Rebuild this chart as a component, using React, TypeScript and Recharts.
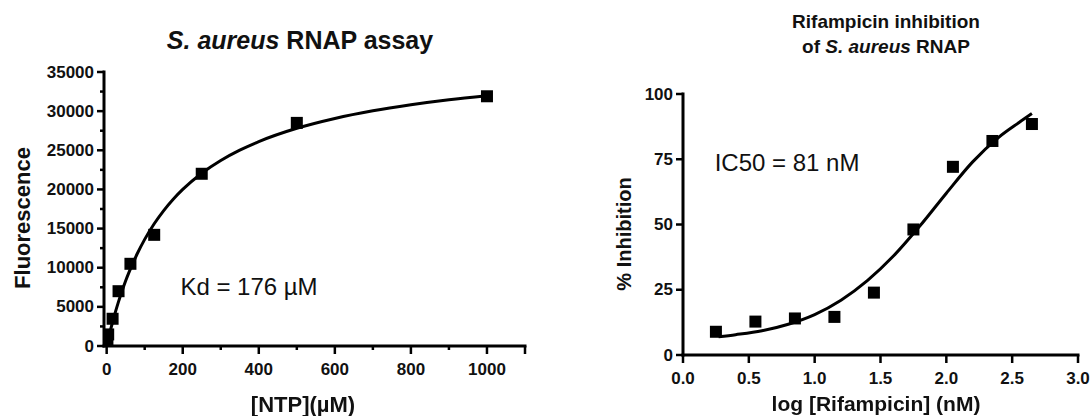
import React from "react";
import { ComposedChart, Line, Scatter, XAxis, YAxis } from "recharts";

// --- left panel: S. aureus RNAP assay (fluorescence vs [NTP]) ---
const ntpPoints = [
  { x: 0, y: 0 },
  { x: 2, y: 420 },
  { x: 4, y: 1480 },
  { x: 15.6, y: 3480 },
  { x: 31.25, y: 7000 },
  { x: 62.5, y: 10500 },
  { x: 125, y: 14200 },
  { x: 250, y: 22000 },
  { x: 500, y: 28500 },
  { x: 1000, y: 31900 },
];
const ntpFitX = [0, 5, 10, 20, 30, 40, 50, 60, 80, 100, 125, 150, 175, 200, 250, 300, 350, 400, 500, 600, 700, 800, 900, 1000];
const ntpFitY = [0, 1040, 2020, 3830, 5470, 6960, 8330, 9560, 11750, 13620, 15610, 17300, 18750, 20000, 22070, 23700, 25020, 26110, 27810, 29070, 30050, 30820, 31460, 31970];
const ntpFit = ntpFitX.map((x, i) => ({ x, y: ntpFitY[i] }));
const ntpXTicks = [0, 100, 200, 300, 400, 500, 600, 700, 800, 900, 1000, 1100];
const ntpXLabels = [0, 200, 400, 600, 800, 1000];
const fluorTicks = [0, 2500, 5000, 7500, 10000, 12500, 15000, 17500, 20000, 22500, 25000, 27500, 30000, 32500, 35000];
const fluorLabels = [0, 5000, 10000, 15000, 20000, 25000, 30000, 35000];

// --- right panel: rifampicin inhibition ---
const rifX = [0.25, 0.55, 0.85, 1.15, 1.45, 1.75, 2.05, 2.35, 2.65];
const rifY = [8.9, 12.8, 14.0, 14.6, 23.9, 48.1, 72.1, 82.0, 88.5];
const rifPoints = rifX.map((x, i) => ({ x, y: rifY[i] }));
const rifFitX = [0.27, 0.4, 0.6, 0.8, 1.0, 1.2, 1.4, 1.6, 1.8, 2.0, 2.2, 2.4, 2.55, 2.65];
const rifFitY = [7.0, 7.8, 9.3, 11.8, 15.5, 21, 28.5, 38, 49.5, 62, 74, 83.5, 89, 92.5];
const rifFit = rifFitX.map((x, i) => ({ x, y: rifFitY[i] }));
const logTicks = [0, 0.5, 1, 1.5, 2, 2.5, 3];
const inhibTicks = [0, 25, 50, 75, 100];

const FONT = "'Liberation Sans', Arial, sans-serif";
const AXIS = { stroke: "#000", strokeWidth: 3, strokeLinecap: "square" as const };

const Square = (props: any) => {
  const { cx, cy } = props;
  if (cx == null || cy == null) return null;
  return <rect x={cx - 6} y={cy - 6} width={12} height={12} fill="#000" />;
};

const makeYTick = (labels: number[] | null, fmt: (v: number) => string, size: number) => (props: any) => {
  const { x, y, payload } = props;
  const major = labels ? labels.includes(payload.value) : true;
  return (
    <g>
      <line x1={x - (major ? 7 : 4)} x2={x} y1={y} y2={y} stroke="#000" strokeWidth={2.5} />
      {major && (
        <text x={x - 10} y={y} textAnchor="end" dominantBaseline="central" fontFamily={FONT} fontWeight="bold" fontSize={size} fill="#111">
          {fmt(payload.value)}
        </text>
      )}
    </g>
  );
};

const makeXTick = (labels: number[] | null, fmt: (v: number) => string, size: number) => (props: any) => {
  const { x, y, payload } = props;
  const major = labels ? labels.includes(payload.value) : true;
  const endTick = !labels || payload.value === 1100;
  return (
    <g>
      <line x1={x} x2={x} y1={y} y2={y + (major || endTick ? 8 : 4)} stroke="#000" strokeWidth={2.5} />
      {major && (
        <text x={x} y={y + 23} textAnchor="middle" dominantBaseline="central" fontFamily={FONT} fontWeight="bold" fontSize={size} fill="#111">
          {fmt(payload.value)}
        </text>
      )}
    </g>
  );
};

const txt = (left: number, top: number, size: number, bold: boolean, rotate = 0): React.CSSProperties => ({
  position: "absolute",
  left,
  top,
  transform: `translate(-50%, -50%) rotate(${rotate}deg)`,
  fontFamily: FONT,
  fontSize: size,
  fontWeight: bold ? "bold" : "normal",
  whiteSpace: "nowrap",
  color: "#111",
  lineHeight: 1.3,
  textAlign: "center",
});

export default function App() {
  return (
    <div style={{ position: "fixed", left: 0, top: 0, width: 1092, height: 416, background: "#fff" }}>
      <div style={{ position: "absolute", left: 0, top: 0 }}>
        <ComposedChart width={545} height={416} margin={{ top: 72, left: 44, right: 20, bottom: 40 }}>
          <XAxis
            type="number"
            dataKey="x"
            domain={[-7, 1100]}
            allowDataOverflow
            ticks={ntpXTicks}
            interval={0}
            height={30}
            tickSize={0}
            tickMargin={0}
            tickLine={false}
            axisLine={AXIS}
            tick={makeXTick(ntpXLabels, (v) => String(v), 17)}
          />
          <YAxis
            type="number"
            dataKey="y"
            domain={[0, 35000]}
            allowDataOverflow
            ticks={fluorTicks}
            interval={0}
            width={60}
            tickSize={0}
            tickMargin={0}
            tickLine={false}
            axisLine={AXIS}
            tick={makeYTick(fluorLabels, (v) => String(v), 17)}
          />
          <Line data={ntpFit} dataKey="y" type="monotone" stroke="#000" strokeWidth={3} dot={false} isAnimationActive={false} />
          <Scatter data={ntpPoints} dataKey="y" shape={Square} isAnimationActive={false} />
        </ComposedChart>
      </div>

      <div style={{ position: "absolute", left: 545, top: 0 }}>
        <ComposedChart width={547} height={416} margin={{ top: 94, left: 78, right: 14, bottom: 31 }}>
          <XAxis
            type="number"
            dataKey="x"
            domain={[0, 3]}
            allowDataOverflow
            ticks={logTicks}
            interval={0}
            height={30}
            tickSize={0}
            tickMargin={0}
            tickLine={false}
            axisLine={AXIS}
            tick={makeXTick(null, (v) => v.toFixed(1), 17)}
          />
          <YAxis
            type="number"
            dataKey="y"
            domain={[0, 100]}
            allowDataOverflow
            ticks={inhibTicks}
            interval={0}
            width={60}
            tickSize={0}
            tickMargin={0}
            tickLine={false}
            axisLine={AXIS}
            tick={makeYTick(null, (v) => String(v), 17)}
          />
          <Line data={rifFit} dataKey="y" type="monotone" stroke="#000" strokeWidth={3} dot={false} isAnimationActive={false} />
          <Scatter data={rifPoints} dataKey="y" shape={Square} isAnimationActive={false} />
        </ComposedChart>
      </div>

      <div style={txt(300, 40, 25, true)}>
        <i>S. aureus</i> RNAP assay
      </div>
      <div style={txt(886, 35, 19, true)}>
        Rifampicin inhibition
        <br />
        of <i>S. aureus</i> RNAP
      </div>
      <div style={txt(23, 218, 22, true, -90)}>Fluorescence</div>
      <div style={txt(624, 234, 20, true, -90)}>% Inhibition</div>
      <div style={txt(303, 405, 22, true)}>[NTP](µM)</div>
      <div style={txt(876, 404, 21, true)}>log [Rifampicin] (nM)</div>
      <div style={txt(249, 287, 24, false)}>Kd = 176 µM</div>
      <div style={txt(787, 163, 24, false)}>IC50 = 81 nM</div>
    </div>
  );
}
